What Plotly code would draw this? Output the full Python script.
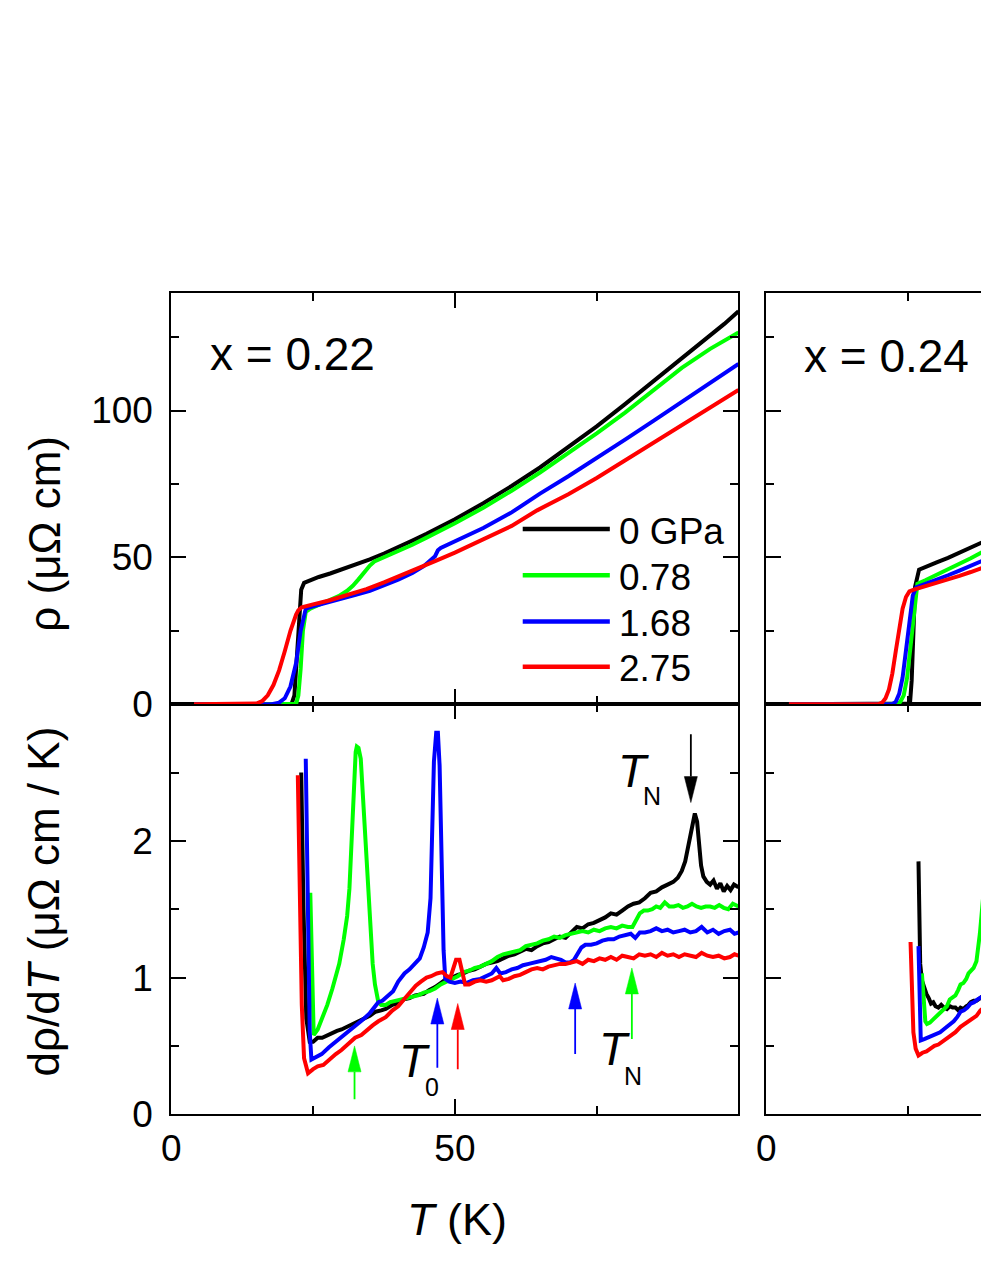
import plotly.graph_objects as go

W, H = 981, 1269
FONT = "Liberation Sans, Arial, sans-serif"

# ---------------- x = 0.22 : resistivity ----------------
t22_p0 = [4, 10, 15, 18, 20, 21.2, 21.7, 22.1, 22.5, 22.9, 23.4, 24.5, 26, 28, 30, 32.5, 35, 37.5,
          40, 42.5, 45, 47.5, 50, 55, 60, 65, 70, 75, 80, 85, 90, 92.6, 95, 97.5, 100]
rho22_p0 = [0, 0, 0, 0, 0, 0.1, 3, 15, 32, 39, 41.3, 42.3, 43.3, 44.5, 45.8, 47.4, 49.3, 51.3,
            53.4, 55.7, 58.0, 60.4, 63.0, 68.4, 74.3, 80.6, 87.4, 94.6, 102.2, 110.0, 117.6, 122.0,
            125.5, 129.5, 133.8]

t22_p1 = [4, 10, 15, 18, 20, 22.0, 22.4, 22.8, 23.2, 23.7, 24.5, 26, 28, 29.5, 31, 32, 33, 34, 35,
          35.8, 37, 40, 42.5, 45, 47.5, 50, 55, 60, 65, 70, 75, 80, 85, 90, 95, 100]
rho22_p1 = [0, 0, 0, 0, 0, 0.1, 3, 12, 25, 31.4, 32.5, 33.7, 35.4, 36.8, 38.6, 40.3, 42.5, 45.0,
            47.2, 48.6, 49.6, 52.1, 54.3, 56.7, 59.1, 61.6, 66.9, 72.7, 78.9, 85.4, 92.2, 99.3,
            106.8, 114.5, 121.0, 126.6]

t22_p2 = [4, 10, 15, 17.7, 19, 20, 21, 22, 22.8, 23.7, 25, 27.5, 30, 32.5, 35, 37.5, 40, 42.5,
          44.5, 46.5, 47.0, 47.5, 50, 55, 60, 65, 70, 75, 80, 85, 90, 95, 100]
rho22_p2 = [0, 0, 0, 0, 0.5, 2, 6, 14, 25, 32.5, 33.3, 34.5, 35.8, 37.2, 38.6, 40.4, 42.4, 44.7,
            47.0, 50.4, 52.4, 53.2, 55.4, 60.0, 65.3, 71.7, 77.6, 83.7, 90.1, 96.5, 103.0, 109.5,
            115.9]

t22_p3 = [4, 10, 14, 15, 16, 17, 18, 19, 20, 21, 22, 22.4, 23, 24, 25, 27.8, 30, 32.5, 34.4, 37.5,
          40, 42.5, 46.5, 50, 55, 60, 64.5, 70, 75, 80, 85, 90, 95, 100]
rho22_p3 = [0, 0, 0, 0.2, 1, 3, 6.5, 11.5, 18, 25, 30.5, 32, 33.0, 33.6, 34.0, 35.3, 36.6, 38.2,
            39.2, 41.5, 43.4, 45.5, 48.7, 51.6, 56.0, 60.7, 66.0, 71.5, 77.0, 83.0, 88.8, 94.8,
            100.8, 107.0]

# ---------------- x = 0.22 : d rho / dT ----------------
td22_p0 = [22.9, 23.3, 23.8, 24.4, 25.0, 25.8, 26.6, 27.5, 28.3, 29.2, 30.0, 31.1, 32.0, 33.0, 34.0,
           35.0, 36.0, 37.0, 37.8, 39.0, 40.0, 41.0, 42.0, 43.0, 44.5, 45.5, 46.5, 47.5, 48.5, 49.5,
           50.5, 51.5, 52.5, 53.5, 54.5, 55.5, 56.5, 57.5, 58.5, 59.5, 60.5, 61.5, 62.5, 63.5, 64.5,
           65.5, 66.5, 67.5, 68.5, 69.5, 70.5, 71.5, 72.5, 73.5, 74.5, 75.5, 76.5, 77.5, 78.5, 79.5,
           80.5, 81.5, 82.5, 83.5, 84.5, 85.5, 86.5, 87.5, 88.5, 89.3, 90.0, 90.6, 91.1, 91.6, 92.0,
           92.3, 92.7, 93.0, 93.4, 93.8, 94.4, 95.0, 95.6, 96.2, 96.8, 97.4, 98.0, 98.6, 99.2, 100]
d22_p0 = [2.50, 1.50, 0.70, 0.53, 0.53, 0.56, 0.56, 0.58, 0.59, 0.61, 0.62, 0.64, 0.66, 0.68, 0.70,
          0.72, 0.75, 0.76, 0.77, 0.80, 0.81, 0.84, 0.85, 0.87, 0.88, 0.91, 0.93, 0.96, 0.99, 1.00,
          1.02, 1.03, 1.05, 1.06, 1.08, 1.10, 1.11, 1.12, 1.14, 1.16, 1.17, 1.19, 1.21, 1.20, 1.23,
          1.25, 1.26, 1.28, 1.30, 1.29, 1.33, 1.37, 1.36, 1.39, 1.40, 1.42, 1.44, 1.47, 1.46, 1.49,
          1.52, 1.54, 1.55, 1.58, 1.62, 1.63, 1.66, 1.68, 1.70, 1.73, 1.78, 1.85, 1.95, 2.06, 2.16,
          2.20, 2.14, 2.00, 1.82, 1.74, 1.70, 1.68, 1.71, 1.65, 1.69, 1.63, 1.67, 1.64, 1.68, 1.66]

td22_p1 = [24.5, 24.8, 25.1, 25.8, 26.6, 27.5, 28.4, 29.0, 29.6, 30.4, 31.0, 31.4, 31.8, 32.1, 32.5,
           32.7, 33.0, 33.4, 33.8, 34.4, 35.0, 35.5, 35.9, 36.5, 37.0, 37.8, 38.6, 39.5, 40.5, 41.5,
           42.5, 43.5, 44.5, 45.5, 46.5, 47.5, 48.5, 49.5, 50.5, 51.5, 52.5, 53.5, 54.5, 55.5, 56.5,
           57.5, 58.5, 59.5, 60.5, 61.5, 62.5, 63.5, 64.5, 65.5, 66.5, 67.5, 68.5, 69.5, 70.5, 71.5,
           72.5, 73.5, 74.5, 75.5, 76.5, 77.5, 78.5, 79.5, 80.5, 81.3, 82.0, 82.6, 83.3, 84.0, 84.8,
           85.5, 86.2, 87.0, 87.8, 88.6, 89.4, 90.2, 91.0, 91.8, 92.6, 93.4, 94.2, 95.0, 95.8, 96.6,
           97.4, 98.2, 99.0, 100]
d22_p1 = [1.62, 1.00, 0.58, 0.62, 0.70, 0.80, 0.92, 1.00, 1.10, 1.28, 1.45, 1.65, 2.00, 2.35, 2.65,
          2.69, 2.68, 2.60, 2.30, 1.97, 1.45, 1.10, 0.95, 0.82, 0.80, 0.80, 0.82, 0.83, 0.84, 0.85,
          0.86, 0.87, 0.89, 0.90, 0.92, 0.95, 0.97, 0.99, 1.01, 1.04, 1.05, 1.07, 1.08, 1.10, 1.12,
          1.15, 1.17, 1.18, 1.19, 1.20, 1.23, 1.24, 1.25, 1.27, 1.28, 1.30, 1.29, 1.31, 1.32, 1.33,
          1.34, 1.33, 1.35, 1.34, 1.36, 1.37, 1.36, 1.38, 1.37, 1.37, 1.43, 1.47, 1.49, 1.49, 1.50,
          1.52, 1.51, 1.55, 1.52, 1.52, 1.53, 1.51, 1.52, 1.54, 1.52, 1.51, 1.52, 1.52, 1.51, 1.53,
          1.51, 1.50, 1.54, 1.52]

td22_p2 = [23.7, 24.0, 24.4, 24.7, 25.5, 26.5, 27.8, 29.0, 30.0, 31.1, 32.0, 33.0, 34.0, 35.0, 36.0,
           36.5, 37.2, 38.0, 39.1, 40.0, 41.1, 42.0, 43.0, 43.8, 44.5, 45.2, 45.7, 46.0, 46.3, 46.7,
           47.0, 47.3, 47.6, 48.0, 48.3, 49.0, 50.0, 51.0, 52.0, 53.2, 54.5, 55.5, 56.5, 57.3, 58.0,
           59.0, 60.0, 61.0, 62.0, 63.0, 64.0, 65.0, 66.0, 67.0, 67.9, 68.7, 69.5, 70.3, 71.0, 71.6,
           72.3, 73.0, 74.0, 75.0, 76.0, 77.0, 78.0, 79.0, 80.0, 81.0, 81.8, 82.6, 83.5, 84.5, 85.5,
           86.5, 87.5, 88.5, 89.5, 90.5, 91.5, 92.5, 93.5, 94.5, 95.5, 96.5, 97.5, 98.5, 99.3, 100]
d22_p2 = [2.60, 1.50, 0.60, 0.40, 0.42, 0.44, 0.49, 0.53, 0.56, 0.60, 0.63, 0.66, 0.70, 0.74, 0.80,
          0.82, 0.83, 0.86, 0.90, 0.97, 1.03, 1.06, 1.10, 1.14, 1.22, 1.33, 1.58, 2.10, 2.58, 2.79,
          2.79, 2.55, 2.00, 1.20, 0.99, 0.97, 0.96, 0.97, 0.96, 0.98, 0.99, 1.01, 1.03, 1.07, 1.03,
          1.04, 1.06, 1.07, 1.09, 1.10, 1.11, 1.12, 1.13, 1.15, 1.14, 1.13, 1.11, 1.11, 1.13, 1.17,
          1.22, 1.24, 1.24, 1.25, 1.27, 1.28, 1.28, 1.30, 1.31, 1.32, 1.29, 1.33, 1.33, 1.34, 1.36,
          1.34, 1.35, 1.33, 1.34, 1.35, 1.33, 1.34, 1.37, 1.33, 1.35, 1.32, 1.34, 1.35, 1.32, 1.33]

td22_p3 = [22.3, 22.6, 23.0, 23.4, 24.1, 25.0, 25.8, 26.8, 27.8, 29.0, 30.0, 31.0, 32.4, 33.5, 34.5,
           35.5, 36.5, 37.8, 39.0, 40.0, 41.0, 42.0, 43.1, 44.0, 45.0, 45.8, 46.8, 47.8, 48.6, 49.2,
           49.7, 50.2, 50.8, 51.3, 51.8, 52.5, 53.5, 54.5, 55.5, 56.5, 57.9, 58.5, 59.5, 60.5, 61.5,
           62.5, 63.5, 64.5, 65.5, 66.5, 67.5, 68.5, 69.5, 70.5, 71.5, 72.5, 73.5, 74.5, 75.5, 76.5,
           77.5, 78.5, 79.5, 80.5, 81.5, 82.5, 83.5, 84.5, 85.5, 86.5, 87.5, 88.5, 89.5, 90.5, 91.5,
           92.5, 93.5, 94.5, 95.5, 96.5, 97.5, 98.5, 99.3, 100]
d22_p3 = [2.48, 1.60, 0.80, 0.41, 0.30, 0.33, 0.35, 0.36, 0.40, 0.44, 0.47, 0.51, 0.56, 0.58, 0.62,
          0.65, 0.68, 0.71, 0.76, 0.79, 0.84, 0.89, 0.94, 0.97, 1.00, 1.01, 1.03, 1.04, 1.01, 1.00,
          1.06, 1.13, 1.13, 1.03, 0.95, 0.95, 0.97, 0.98, 0.97, 0.98, 1.01, 0.98, 0.99, 1.01, 1.02,
          1.04, 1.06, 1.07, 1.06, 1.08, 1.09, 1.10, 1.10, 1.11, 1.12, 1.10, 1.13, 1.12, 1.14, 1.13,
          1.15, 1.13, 1.16, 1.15, 1.14, 1.17, 1.16, 1.17, 1.15, 1.18, 1.16, 1.17, 1.15, 1.17, 1.16,
          1.15, 1.18, 1.16, 1.15, 1.16, 1.14, 1.15, 1.17, 1.16]

# ---------------- x = 0.24 : resistivity ----------------
t24_p0 = [4, 10, 15, 20, 24, 25.3, 25.6, 25.9, 26.2, 26.9, 28, 30, 32, 34, 36, 38]
rho24_p0 = [0, 0, 0, 0, 0, 0.2, 8, 25, 40, 45.8, 46.8, 48.3, 49.8, 51.5, 53.2, 55.1]
t24_p1 = [4, 10, 15, 20, 23.0, 23.6, 24.2, 24.8, 25.4, 26.0, 26.6, 28, 30, 32, 34, 36, 38]
rho24_p1 = [0, 0, 0, 0, 0, 0.8, 3, 9, 20, 33, 41.0, 42.2, 44.0, 45.8, 47.7, 49.7, 51.8]
t24_p2 = [4, 10, 15, 20, 22.2, 22.8, 23.4, 24.0, 24.6, 25.2, 25.8, 26.4, 28, 30, 32, 34, 36, 38]
rho24_p2 = [0, 0, 0, 0, 0, 0.8, 3.5, 9, 18, 29, 37, 39.8, 40.9, 42.4, 43.9, 45.5, 47.1, 48.8]
t24_p3 = [4, 10, 15, 19.8, 20.4, 21.0, 21.6, 22.2, 22.8, 23.4, 24.0, 24.6, 25.2, 26, 28, 30, 32, 34,
          36, 38]
rho24_p3 = [0, 0, 0, 0, 0.5, 2, 5, 10.5, 18, 26, 32.5, 36.5, 38.4, 39.0, 40.1, 41.3, 42.5, 43.7,
            45.0, 46.4]

# ---------------- x = 0.24 : d rho / dT ----------------
td24_p0 = [26.8, 26.9, 27.1, 27.4, 27.8, 28.2, 28.6, 29.0, 29.4, 29.8, 30.3, 30.8, 31.3, 31.8, 32.3,
           32.8, 33.3, 33.8, 34.2, 34.7, 35.2, 35.6, 36.0, 36.5, 37.0, 37.5, 38]
d24_p0 = [1.85, 1.50, 1.10, 0.98, 0.92, 0.88, 0.85, 0.81, 0.82, 0.79, 0.78, 0.80, 0.78, 0.77, 0.79,
          0.78, 0.78, 0.76, 0.78, 0.77, 0.79, 0.80, 0.82, 0.83, 0.83, 0.85, 0.86]
td24_p1 = [27.4, 27.7, 28.0, 28.3, 28.8, 29.3, 29.8, 30.3, 30.8, 31.3, 31.8, 32.3, 32.8, 33.3, 33.8,
           34.2, 34.7, 35.2, 35.6, 36.0, 36.5, 37.0, 37.3, 37.6, 37.9, 38.2]
d24_p1 = [1.03, 0.80, 0.68, 0.66, 0.67, 0.69, 0.71, 0.72, 0.75, 0.77, 0.79, 0.84, 0.86, 0.87, 0.91,
          0.95, 0.96, 0.99, 1.03, 1.05, 1.07, 1.12, 1.20, 1.32, 1.46, 1.60]
td24_p2 = [26.8, 27.0, 27.2, 27.8, 28.4, 29.0, 29.5, 30.0, 30.6, 31.2, 31.9, 32.5, 33.0, 33.6, 34.2,
           34.8, 35.4, 36.0, 36.6, 37.2, 37.7, 38]
d24_p2 = [1.23, 0.80, 0.54, 0.55, 0.56, 0.57, 0.58, 0.59, 0.60, 0.62, 0.64, 0.66, 0.68, 0.71, 0.75,
          0.76, 0.78, 0.81, 0.82, 0.84, 0.85, 0.86]
td24_p3 = [25.4, 25.6, 25.9, 26.3, 26.8, 27.5, 28.2, 28.9, 29.6, 30.3, 31.0, 31.9, 32.6, 33.3, 34.2,
           34.9, 35.6, 36.3, 37.0, 37.7, 38]
d24_p3 = [1.26, 0.90, 0.60, 0.48, 0.43, 0.45, 0.46, 0.48, 0.50, 0.51, 0.53, 0.56, 0.58, 0.60, 0.64,
          0.66, 0.68, 0.70, 0.72, 0.76, 0.77]

pressures = ["0 GPa", "0.78", "1.68", "2.75"]
colors = ["#000000", "#00ff00", "#0000ff", "#ff0000"]

# transition arrows in the x = 0.22 derivative panel
arrow_T = [91.6, 32.3, 46.9, 50.5, 71.2, 81.2]
arrow_tail = [2.78, 0.11, 0.34, 0.33, 0.44, 0.55]
arrow_tip = [2.28, 0.50, 0.85, 0.81, 0.96, 1.07]
arrow_color = ["#000000", "#00ff00", "#0000ff", "#ff0000", "#0000ff", "#00ff00"]


def px(x):
    return x / W


def py(y):
    return 1 - y / H


fig = go.Figure()

rho22 = [(t22_p0, rho22_p0), (t22_p1, rho22_p1), (t22_p2, rho22_p2), (t22_p3, rho22_p3)]
der22 = [(td22_p0, d22_p0), (td22_p1, d22_p1), (td22_p2, d22_p2), (td22_p3, d22_p3)]
rho24 = [(t24_p0, rho24_p0), (t24_p1, rho24_p1), (t24_p2, rho24_p2), (t24_p3, rho24_p3)]
der24 = [(td24_p0, d24_p0), (td24_p1, d24_p1), (td24_p2, d24_p2), (td24_p3, d24_p3)]

for sets, xa, ya in [(rho22, "x2", "y2"), (der22, "x", "y"), (rho24, "x4", "y4"), (der24, "x3", "y3")]:
    for (tx, vy), c, name in zip(sets, colors, pressures):
        fig.add_trace(go.Scatter(x=tx, y=vy, mode="lines", name=name, xaxis=xa, yaxis=ya,
                                 line=dict(color=c, width=4), showlegend=False))

# arrows: thin shaft + filled head
head_len, head_half = 0.19, 1.15
for t, tail, tip, c in zip(arrow_T, arrow_tail, arrow_tip, arrow_color):
    s = 1 if tip > tail else -1
    base = tip - s * head_len
    fig.add_trace(go.Scatter(x=[t, t], y=[tail, base], mode="lines", xaxis="x", yaxis="y",
                             line=dict(color=c, width=1.8), showlegend=False))
    fig.add_trace(go.Scatter(x=[t - head_half, t, t + head_half, t - head_half],
                             y=[base, tip, base, base], mode="lines", fill="toself",
                             fillcolor=c, xaxis="x", yaxis="y",
                             line=dict(color=c, width=0.5), showlegend=False))

xl = [px(163), px(736)]
xr = [px(764), 1.0]
y_top = [py(716), py(298)]
y_bot = [py(1133), py(716)]

ax_common = dict(showline=True, linecolor="black", linewidth=2, ticks="inside",
                 ticklen=15, tickwidth=2, tickcolor="black", showgrid=False, zeroline=False,
                 tickfont=dict(family=FONT, size=37, color="black"))


def minor(step):
    return dict(dtick=step, tick0=0, ticks="inside", ticklen=8, tickwidth=2, tickcolor="black")


fig.update_layout(
    width=W, height=H,
    margin=dict(l=0, r=0, t=0, b=0),
    paper_bgcolor="white", plot_bgcolor="white",
    showlegend=False,
    font=dict(family=FONT, color="black"),
    xaxis=dict(domain=xl, anchor="y", range=[0, 100], mirror="ticks", ticklabelstandoff=0,
               tickvals=[0, 50, 100], ticktext=["0", "50", ""], minor=minor(25), **ax_common),
    yaxis=dict(domain=y_bot, anchor="x", range=[0, 3], mirror="ticks", ticklabelstandoff=9,
               tickvals=[0, 1, 2, 3], ticktext=["0", "1", "2", ""], minor=minor(0.5), **ax_common),
    xaxis2=dict(domain=xl, anchor="y2", range=[0, 100], mirror="ticks", dtick=50,
                showticklabels=False, minor=minor(25), **ax_common),
    yaxis2=dict(domain=y_top, anchor="x2", range=[0, 140], mirror="ticks", dtick=50,
                ticklabelstandoff=9, minor=minor(25), **ax_common),
    xaxis3=dict(domain=xr, anchor="y3", range=[0, 37.8], mirror="ticks", dtick=50,
                ticklabelstandoff=0, minor=minor(25), **ax_common),
    yaxis3=dict(domain=y_bot, anchor="x3", range=[0, 3], dtick=1, showticklabels=False,
                minor=minor(0.5), **ax_common),
    xaxis4=dict(domain=xr, anchor="y4", range=[0, 37.8], mirror="ticks", dtick=50,
                showticklabels=False, minor=minor(25), **ax_common),
    yaxis4=dict(domain=y_top, anchor="x4", range=[0, 140], dtick=50, showticklabels=False,
                minor=minor(25), **ax_common),
)

# legend drawn by hand inside the top-left panel
leg_y = [538, 585, 632, 678]
for c, name, yy in zip(colors, pressures, leg_y):
    fig.add_shape(type="line", xref="paper", yref="paper", x0=px(518), x1=px(606),
                  y0=py(yy), y1=py(yy), line=dict(color=c, width=4.5))
    fig.add_annotation(x=px(613), y=py(yy + 2), xref="paper", yref="paper", text=name,
                       showarrow=False, xanchor="left", yanchor="middle",
                       font=dict(family=FONT, size=37, color="black"))


def label(x, y, text, size, angle=0, anchor="center"):
    fig.add_annotation(x=px(x), y=py(y), xref="paper", yref="paper", text=text,
                       showarrow=False, xanchor=anchor, yanchor="middle", textangle=angle,
                       font=dict(family=FONT, size=size, color="black"))


label(200, 360, "x = 0.22", 46, anchor="left")
label(800, 362, "x = 0.24", 46, anchor="left")
label(34, 543, "ρ (μΩ cm)", 44, angle=-90)
label(34, 917, "dρ/d<i>T</i> (μΩ cm / K)", 44, angle=-90)
label(452, 1240, "<i>T</i> (K)", 45)

# transition labels
label(630, 784, "<i>T</i>", 46)
label(649, 809, "N", 25)
label(409, 1079, "<i>T</i>", 46)
label(426, 1105, "0", 25)
label(611, 1067, "<i>T</i>", 46)
label(629, 1094, "N", 25)

fig.write_html("out.html", config={"displayModeBar": False},
               post_script="document.body.style.margin='0';document.body.style.overflow='hidden';")
